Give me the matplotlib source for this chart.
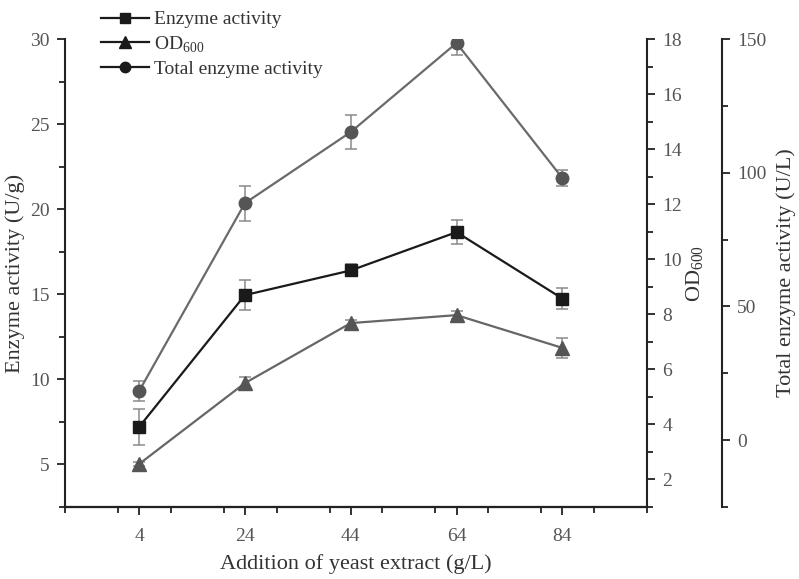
import matplotlib
matplotlib.use('Agg')
import matplotlib.pyplot as plt
from matplotlib.lines import Line2D
from matplotlib.ticker import MultipleLocator

plt.rcParams['font.family'] = ['Liberation Serif', 'DejaVu Serif']
plt.rcParams['mathtext.fontset'] = 'custom'
plt.rcParams['mathtext.rm'] = 'Liberation Serif'

# data
yeast = [4, 24, 44, 64, 84]
enzyme = [7.2, 14.95, 16.4, 18.65, 14.75]
enzyme_err = [1.05, 0.88, 0.35, 0.7, 0.6]
od600 = [2.56, 5.5, 7.68, 7.97, 6.78]
od600_err = [0.08, 0.22, 0.1, 0.15, 0.35]
total = [18.3, 88.6, 115.2, 148.5, 98.0]
total_err = [3.7, 6.5, 6.4, 4.4, 3.0]

tick_col = '#555555'
lab_col = '#333333'

fig = plt.figure(figsize=(7.99, 5.79), dpi=100)
ax = fig.add_axes([65/799, 1-507/579, 582/799, 468/579])
ax2 = ax.twinx()
ax3 = ax.twinx()
ax3.spines['right'].set_position(('axes', 1 + 75/582))

for a in (ax, ax2, ax3):
    a.spines['top'].set_visible(False)
    a.tick_params(which='both', direction='out', colors='#222222',
                  labelcolor=tick_col, labelsize=14, width=1.3)
    a.tick_params(which='major', length=6, pad=5)
    a.tick_params(which='minor', length=4)
    for s in a.spines.values():
        s.set_linewidth(1.5)
        s.set_color('#222222')
ax.tick_params(axis='x', which='major', pad=9)

ax.spines['right'].set_visible(False)
ax3.spines['left'].set_visible(False)
ax2.spines['left'].set_visible(False)

ebar = dict(ecolor='#8a8a8a', elinewidth=1.1, capsize=4, capthick=1.1)
ax.errorbar(yeast, enzyme, yerr=enzyme_err, color='#1a1a1a', marker='s',
            ms=8, lw=1.6, zorder=3, **ebar)
ax2.errorbar(yeast, od600, yerr=od600_err, color='#666666', marker='^',
             ms=9.5, mfc='#555555', mec='#555555', lw=1.6, **ebar)
ax3.errorbar(yeast, total, yerr=total_err, color='#6a6a6a', marker='o',
             ms=9, mfc='#555555', mec='#555555', lw=1.6, **ebar)

ax.set_xlim(-10, 100)
ax.set_xticks(yeast)
ax.xaxis.set_minor_locator(MultipleLocator(10))
ax.set_ylim(2.5, 30)
ax.yaxis.set_major_locator(MultipleLocator(5))
ax.yaxis.set_minor_locator(MultipleLocator(2.5))
ax2.set_ylim(1, 18)
ax2.yaxis.set_major_locator(MultipleLocator(2))
ax2.yaxis.set_minor_locator(MultipleLocator(1))
ax3.set_ylim(-25, 150)
ax3.yaxis.set_major_locator(MultipleLocator(50))
ax3.yaxis.set_minor_locator(MultipleLocator(25))

ax.set_xlabel('Addition of yeast extract (g/L)', fontsize=16, color=lab_col,
              labelpad=7)
ax.set_ylabel('Enzyme activity (U/g)', fontsize=16, color=lab_col, labelpad=4)
ax2.set_ylabel('OD$_{600}$', fontsize=16, color=lab_col, labelpad=2)
ax3.set_ylabel('Total enzyme activity (U/L)', fontsize=16, color=lab_col,
               labelpad=7)

handles = [
    Line2D([], [], color='#1a1a1a', marker='s', ms=7, lw=1.6),
    Line2D([], [], color='#1a1a1a', marker='^', ms=8, lw=1.6),
    Line2D([], [], color='#1a1a1a', marker='o', ms=7.5, lw=1.6),
]
labels = ['Enzyme activity', 'OD$_{600}$', 'Total enzyme activity']
leg = fig.legend(handles, labels, loc='upper left',
                 bbox_to_anchor=(93/799, 1-3/579), frameon=False, fontsize=14,
                 handlelength=2.5, handletextpad=0.25, labelspacing=0.3,
                 borderaxespad=0)
for t in leg.get_texts():
    t.set_color(lab_col)

fig.savefig('out.png', dpi=100)
